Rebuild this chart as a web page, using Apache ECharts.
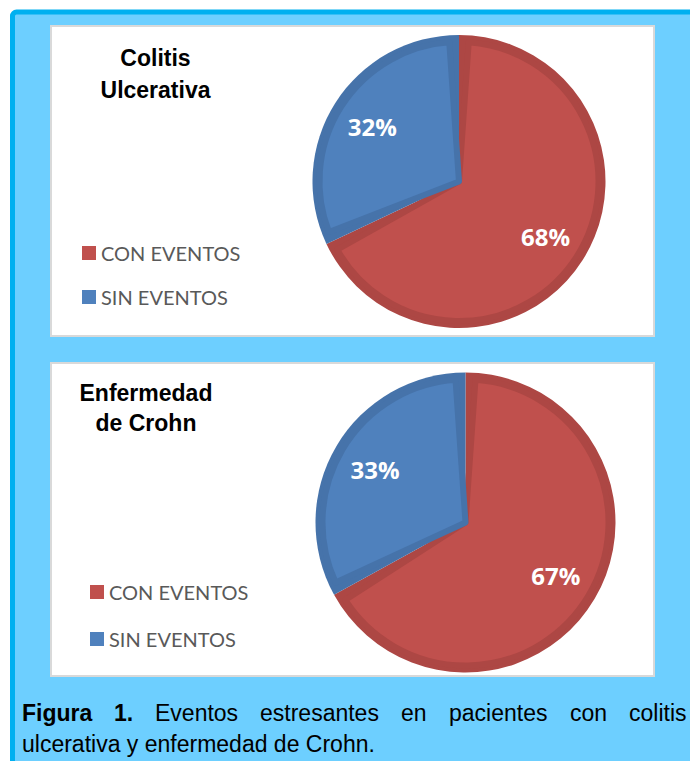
<!DOCTYPE html>
<html><head><meta charset="utf-8">
<script src="https://cdn.jsdelivr.net/npm/echarts@6/dist/echarts.min.js"></script>
<style>html,body{margin:0;padding:0;background:#fff}#c{width:690px;height:761px}</style>
</head><body><div id="c"></div>
<script>
// ---- data ----
const categories = ['CON EVENTOS', 'SIN EVENTOS'];
const colitisValues = [68, 32];
const crohnValues = [67, 33];
const titleColitis = ['Colitis', 'Ulcerativa'];
const titleCrohn = ['Enfermedad', 'de Crohn'];
const captionLine1 = ['Figura', '1.', 'Eventos', 'estresantes', 'en', 'pacientes', 'con', 'colitis'];
const captionLine2 = 'ulcerativa y enfermedad de Crohn.';

// ---- styles ----
const fillColors = ['#c0504d', '#4f81bd'];
const darkColors = ['#ad4744', '#4673aa'];

function mkData(values, colors, extra) {
  return categories.map((n, i) => ({ name: n, value: values[i], itemStyle: Object.assign({ color: colors[i] }, extra ? extra(i) : {}) }));
}

function pieSeries(values, center, r) {
  return [
    { type: 'pie', center: center, radius: r, startAngle: 90, clockwise: true, silent: true,
      label: { show: false }, labelLine: { show: false }, emphasis: { disabled: true },
      data: mkData(values, darkColors), z: 2 },
    { type: 'pie', center: center, radius: r - 7, startAngle: 90, clockwise: true, silent: true, padAngle: 8,
      label: { show: false }, labelLine: { show: false }, emphasis: { disabled: true },
      data: mkData(values, fillColors, i => ({ borderColor: darkColors[i], borderWidth: 6 })), z: 3 },
    { type: 'pie', center: center, radius: [r * 0.68 - 1, r * 0.68 + 1], startAngle: 90, clockwise: true, silent: true,
      emphasis: { disabled: true }, labelLine: { show: false },
      itemStyle: { color: 'rgba(0,0,0,0)' },
      label: { show: true, position: 'inside', formatter: p => p.value + '%', color: '#fff',
        fontFamily: 'Open Sans', fontWeight: 'bold', fontSize: 24 },
      data: categories.map((n, i) => ({ name: n, value: values[i], itemStyle: { color: 'rgba(0,0,0,0)' } })), z: 4 }
  ];
}

const legendBase = {
  orient: 'vertical', itemWidth: 14, itemHeight: 14, icon: 'rect', selectedMode: false, padding: 0,
  textStyle: { fontFamily: 'Lato', fontSize: 20, color: '#595959', lineHeight: 24 },
  data: categories.map((n, i) => ({ name: n, itemStyle: { color: fillColors[i] } }))
};

const titleStyle = { fontFamily: 'Liberation Sans, Arial', fontWeight: 'bold', fontSize: 23, fill: '#000', textAlign: 'center', textVerticalAlign: 'middle' };
const capFont = 'Liberation Sans, Arial';
const line1X = [22, 114, 155, 260, 401, 449, 570, 629];

const graphics = [
  { type: 'rect', z: -10, shape: { x: 12.5, y: 12, width: 720, height: 800, r: 4 }, style: { fill: '#6dcfff', stroke: '#00b0f0', lineWidth: 5 } },
  { type: 'rect', z: -9, shape: { x: 51, y: 26, width: 603, height: 310 }, style: { fill: '#fff', stroke: '#d9d9d9', lineWidth: 2 } },
  { type: 'rect', z: -9, shape: { x: 51, y: 363, width: 603, height: 313 }, style: { fill: '#fff', stroke: '#d9d9d9', lineWidth: 2 } },
  { type: 'text', z: 10, x: 155.5, y: 57.5, style: Object.assign({ text: titleColitis[0] }, titleStyle) },
  { type: 'text', z: 10, x: 155.5, y: 90.3, style: Object.assign({ text: titleColitis[1] }, titleStyle) },
  { type: 'text', z: 10, x: 146, y: 393, style: Object.assign({ text: titleCrohn[0] }, titleStyle) },
  { type: 'text', z: 10, x: 146, y: 423, style: Object.assign({ text: titleCrohn[1] }, titleStyle) },
  { type: 'text', z: 10, x: 22, y: 744, style: { text: captionLine2, fontFamily: capFont, fontSize: 23, fill: '#000', textVerticalAlign: 'middle' } }
];
captionLine1.forEach((w, i) => {
  graphics.push({ type: 'text', z: 10, x: line1X[i], y: 713, style: { text: w, fontFamily: capFont, fontSize: 23, fontWeight: i < 2 ? 'bold' : 'normal', fill: '#000', textVerticalAlign: 'middle' } });
});

const chart = echarts.init(document.getElementById('c'), null, { renderer: 'svg' });
chart.setOption({
  animation: false,
  backgroundColor: '#fff',
  legend: [
    Object.assign({}, legendBase, { left: 82, top: 241, itemGap: 20 }),
    Object.assign({}, legendBase, { left: 90, top: 580, itemGap: 23 })
  ],
  graphic: graphics,
  series: [].concat(pieSeries(colitisValues, [459, 181.5], 146.5), pieSeries(crohnValues, [465.5, 522.5], 150))
});
</script>
</body></html>
